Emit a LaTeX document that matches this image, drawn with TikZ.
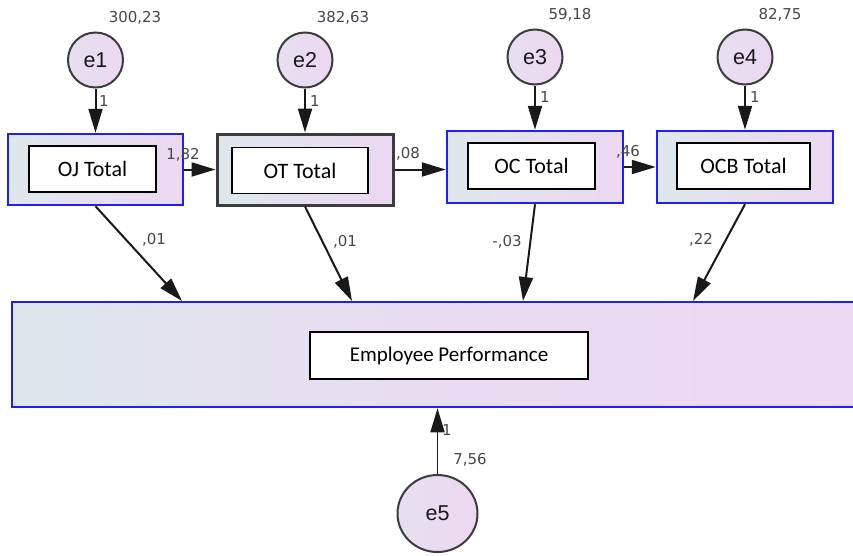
\documentclass[tikz,border=0pt]{standalone}
\usepackage{fontspec}
\setmainfont{Liberation Sans}
\newfontfamily\boxfont{Carlito}
\newfontfamily\numfont{DejaVu Sans}
\usetikzlibrary{arrows.meta,shapes.geometric}
\definecolor{bordblue}{RGB}{30,30,255}
\definecolor{bordgray}{RGB}{60,60,60}
\definecolor{fillL}{RGB}{222,232,236}
\definecolor{fillR}{RGB}{236,216,242}
\definecolor{numgray}{RGB}{70,70,80}
\begin{document}
\begin{tikzpicture}[x=1pt,y=-1pt,
  obsbox/.style={rectangle, draw=bordblue, line width=2.5pt, left color=fillL, right color=fillR, minimum width=175pt, minimum height=71pt, inner sep=0pt},
  lblbox/.style={rectangle, draw=black, fill=white, line width=1.1pt, minimum height=46pt, inner sep=0pt, font=\boxfont\fontsize{22}{24}\selectfont},
  errnode/.style={circle, draw=bordgray, line width=2pt, left color=fillL!45!fillR, right color=fillR, minimum size=55pt, inner sep=0pt, font=\fontsize{21.5}{23}\selectfont, text=black!90},
  arr/.style={-{Triangle[length=24pt,width=14pt]}, line width=2pt, draw=black!90},
  numlbl/.style={font=\numfont\fontsize{15}{16}\selectfont, text=numgray, inner sep=0pt}]
\useasboundingbox (0,0) rectangle (853,555);
\clip (0,0) rectangle (853,555);
\fill[white] (0,0) rectangle (853,555);

% observed boxes
\node[obsbox] (OJ) at (95.5,169.5) {};
\node[obsbox, draw=bordgray, line width=3pt, minimum width=176pt] (OT) at (305,169.5) {};
\node[obsbox, minimum width=176pt, minimum height=72pt] (OC) at (535,167) {};
\node[obsbox, minimum width=176pt, minimum height=72pt] (OCB) at (745,167) {};
\node[lblbox, minimum width=127pt] (OJl) at (92.5,169) {OJ Total};
\node[lblbox, minimum width=136pt] (OTl) at (300,170.5) {OT Total};
\node[lblbox, minimum width=127pt] (OCl) at (531.5,166) {OC Total};
\node[lblbox, minimum width=133pt] (OCBl) at (743.5,166) {OCB Total};

% dependent box
\node[obsbox, left color=fillL, right color=fillR, middle color=fillR!80!fillL, minimum width=888pt, minimum height=105pt] (EP) at (456,354.5) {};
\node[lblbox, minimum width=278pt, minimum height=47pt, font=\boxfont\fontsize{21}{23}\selectfont] (EPl) at (449,355.5) {Employee Performance};

% error terms
\node[errnode] (e1) at (95.5,60) {e1};
\node[errnode] (e2) at (305,60) {e2};
\node[errnode] (e3) at (535,57) {e3};
\node[errnode] (e4) at (745,57) {e4};
\node[errnode, ellipse, minimum width=80pt, minimum height=77pt] (e5) at (437.5,513.5) {e5};

% arrows from errors
\draw[arr] (e1) -- (OJ);
\draw[arr] (e2) -- (OT);
\draw[arr] (e3) -- (OC);
\draw[arr] (e4) -- (OCB);
\draw[arr, line width=1.7pt] (e5) -- (e5 |- EP.south);

% chain arrows
\draw[arr] (OJ.east) -- (OT.west);
\draw[arr] (OT.east) -- (OC.west |- OT.east);
\draw[arr] (OC.east) -- (OCB.west);

% arrows into Employee Performance
\coordinate (t1) at (182,301);
\coordinate (t2) at (352,301);
\coordinate (t3) at (523,301);
\coordinate (t4) at (693,301);
\draw[arr] (OJ.south) -- (t1);
\draw[arr] (OT.south) -- (t2);
\draw[arr] (OC.south) -- (t3);
\draw[arr] (OCB.south) -- (t4);

% variance labels
\node[numlbl] (v1) at (135,18) {300,23};
\node[numlbl] (v2) at (343,18) {382,63};
\node[numlbl] (v3) at (570,15) {59,18};
\node[numlbl] (v4) at (780,15) {82,75};
\node[numlbl] (v5) at (470,460) {7,56};

% fixed loadings
\node[numlbl] (w1) at (104,101) {1};
\node[numlbl] (w2) at (315,101) {1};
\node[numlbl] (w3) at (545,97) {1};
\node[numlbl] (w4) at (755,97) {1};
\node[numlbl] (w5) at (447,430) {1};

% path coefficients
\node[numlbl] (p1) at (183,155) {1,82};
\node[numlbl] (p2) at (408,154) {,08};
\node[numlbl] (p3) at (628,152) {,46};
\node[numlbl] (q1) at (154,240) {,01};
\node[numlbl] (q2) at (345,242) {,01};
\node[numlbl] (q3) at (507,242) {-,03};
\node[numlbl] (q4) at (701,240) {,22};
\end{tikzpicture}
\end{document}
